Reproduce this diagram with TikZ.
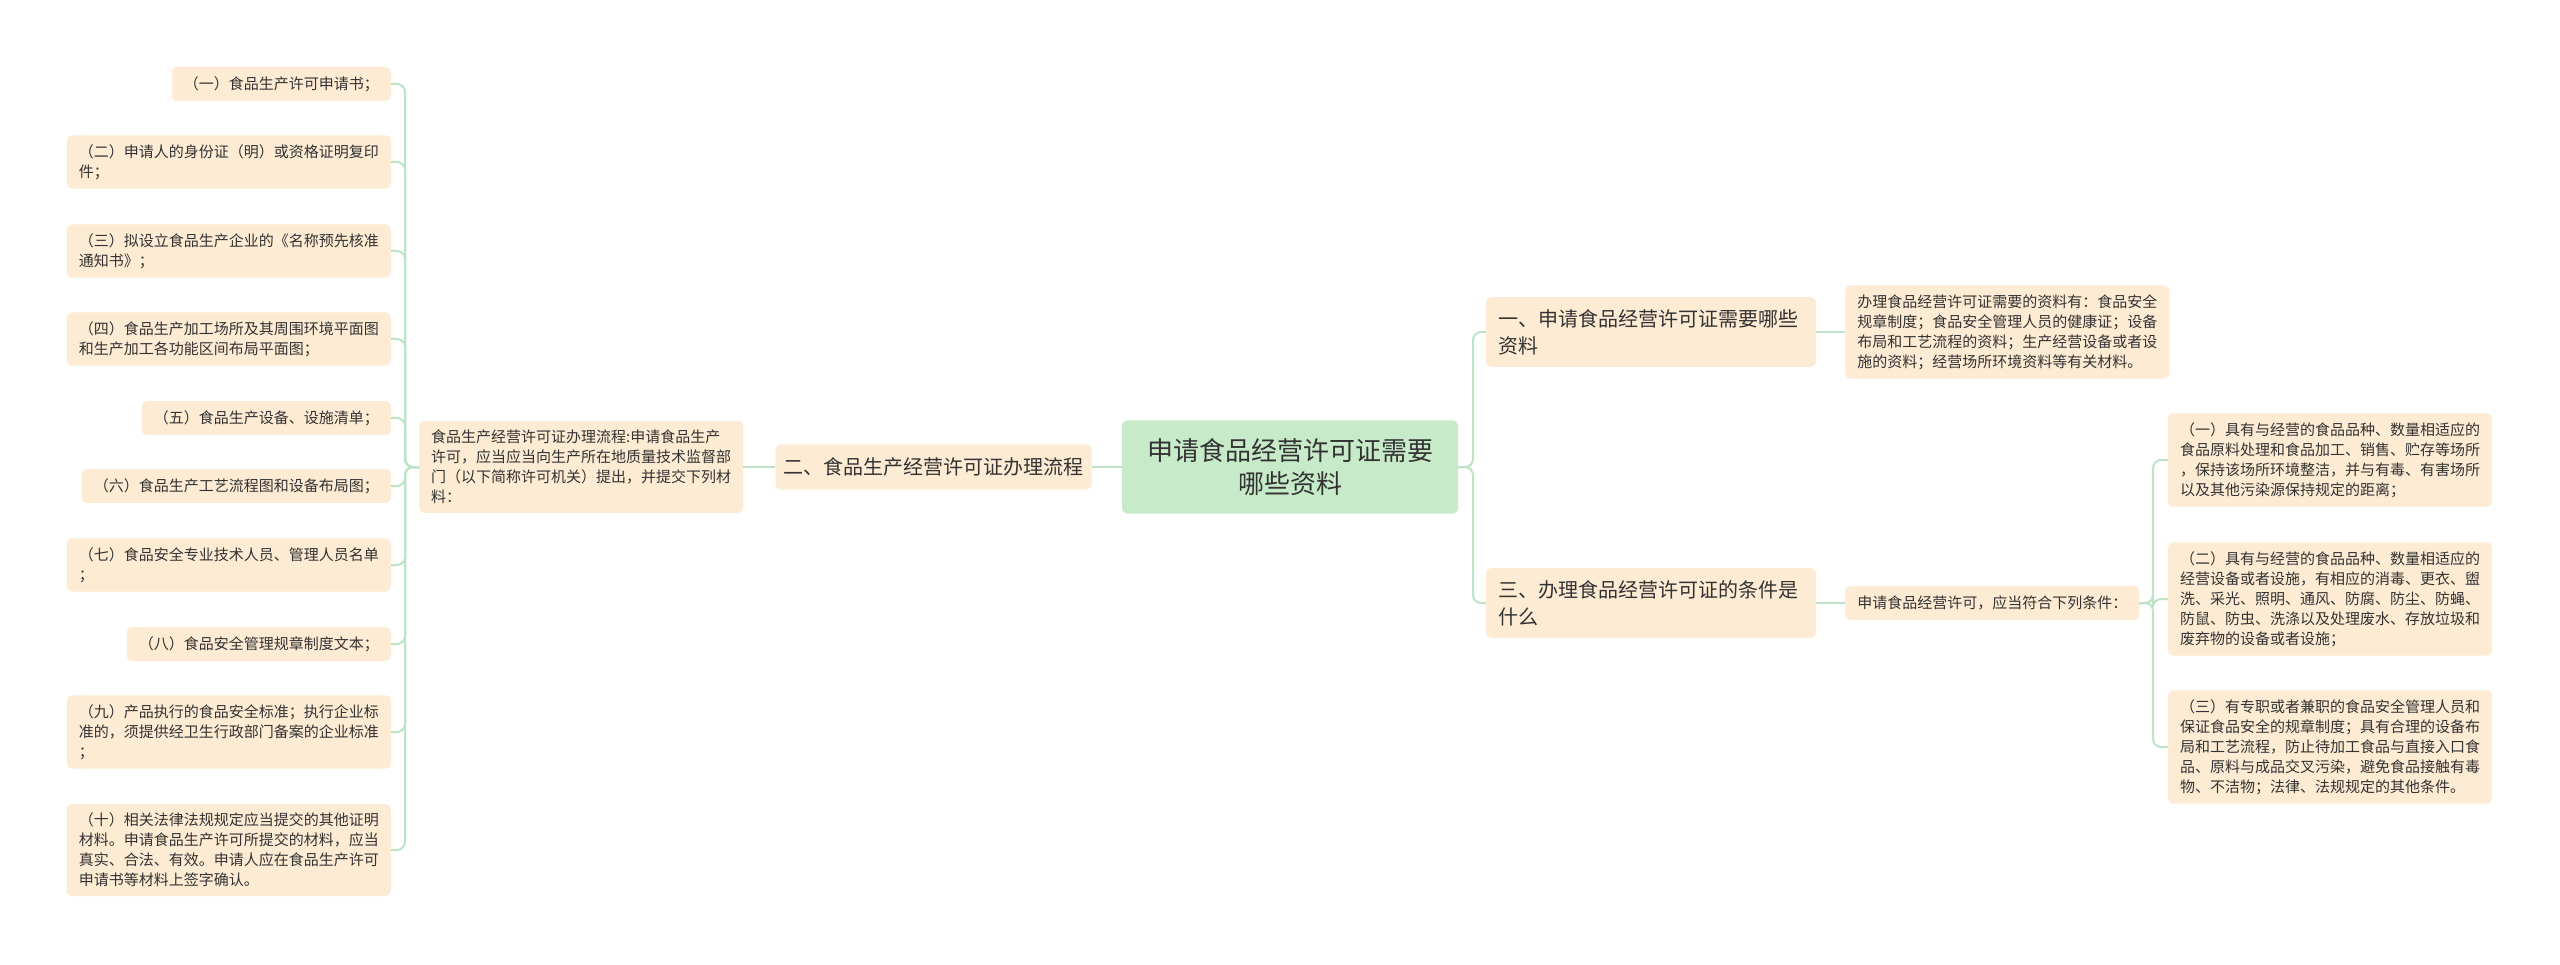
\documentclass[tikz,border=0pt]{standalone}
\usepackage{fontspec}
\setmainfont{Noto Sans CJK SC}
\usepackage{xcolor}
\usetikzlibrary{positioning}
\definecolor{peach}{RGB}{253,235,211}
\definecolor{mint}{RGB}{199,235,201}
\definecolor{linkgreen}{RGB}{190,228,199}
\definecolor{ink}{RGB}{51,51,51}
\tikzset{box/.style={rounded corners=5pt,fill=peach,text=ink,inner xsep=12pt,inner ysep=9pt,
    minimum height=34pt,font=\fontsize{15}{20}\selectfont,align=left}}
\tikzset{para/.style={box,text width=300pt}}
\tikzset{topic/.style={box,font=\fontsize{20}{27}\selectfont,inner xsep=8pt,inner ysep=12pt,minimum height=45pt}}
\tikzset{rootbox/.style={box,fill=mint,font=\fontsize{26}{33}\selectfont,align=center,
    text width=286pt,inner xsep=25pt,inner ysep=18pt}}
\tikzset{link/.style={draw=linkgreen,line width=2pt,rounded corners=8pt}}

\begin{document}
\begin{tikzpicture}[x=1pt,y=-1pt] % 像素坐标, y向下
    \useasboundingbox[fill=white] (0,0) rectangle (2560,965);
    % 中心主题
    \node[rootbox] (root) at (1290,467) {申请食品经营许可证需要\\哪些资料};
    % 左侧分支
    \node[topic,left=30pt of root] (two) {二、食品生产经营许可证办理流程};
    \node[para,left=32pt of two] (info) {食品生产经营许可证办理流程:申请食品生产\\许可，应当应当向生产所在地质量技术监督部\\门（以下简称许可机关）提出，并提交下列材\\料：};
    \node[box,anchor=east] (l1) at (391,84) {（一）食品生产许可申请书；};
    \node[para,anchor=east] (l2) at (391,162) {（二）申请人的身份证（明）或资格证明复印\\件；};
    \node[para,anchor=east] (l3) at (391,251) {（三）拟设立食品生产企业的《名称预先核准\\通知书》；};
    \node[para,anchor=east] (l4) at (391,339) {（四）食品生产加工场所及其周围环境平面图\\和生产加工各功能区间布局平面图；};
    \node[box,anchor=east] (l5) at (391,418) {（五）食品生产设备、设施清单；};
    \node[box,anchor=east] (l6) at (391,486) {（六）食品生产工艺流程图和设备布局图；};
    \node[para,anchor=east] (l7) at (391,565) {（七）食品安全专业技术人员、管理人员名单\\；};
    \node[box,anchor=east] (l8) at (391,644) {（八）食品安全管理规章制度文本；};
    \node[para,anchor=east] (l9) at (391,732) {（九）产品执行的食品安全标准；执行企业标\\准的，须提供经卫生行政部门备案的企业标准\\；};
    \node[para,anchor=east] (l10) at (391,850) {（十）相关法律法规规定应当提交的其他证明\\材料。申请食品生产许可所提交的材料，应当\\真实、合法、有效。申请人应在食品生产许可\\申请书等材料上签字确认。};
    % 右侧分支
    \node[topic,text width=306pt,inner xsep=12pt] (one) at (1651,332) {一、申请食品经营许可证需要哪些\\资料};
    \node[para,right=29pt of one] (oneinfo) {办理食品经营许可证需要的资料有：食品安全\\规章制度；食品安全管理人员的健康证；设备\\布局和工艺流程的资料；生产经营设备或者设\\施的资料；经营场所环境资料等有关材料。};
    \node[topic,text width=306pt,inner xsep=12pt] (three) at (1651,603) {三、办理食品经营许可证的条件是\\什么};
    \node[box,right=29pt of three] (threeinfo) {申请食品经营许可，应当符合下列条件：};
    \node[para,anchor=west] (r1) at (2168,460) {（一）具有与经营的食品品种、数量相适应的\\食品原料处理和食品加工、销售、贮存等场所\\，保持该场所环境整洁，并与有毒、有害场所\\以及其他污染源保持规定的距离；};
    \node[para,anchor=west] (r2) at (2168,599) {（二）具有与经营的食品品种、数量相适应的\\经营设备或者设施，有相应的消毒、更衣、盥\\洗、采光、照明、通风、防腐、防尘、防蝇、\\防鼠、防虫、洗涤以及处理废水、存放垃圾和\\废弃物的设备或者设施；};
    \node[para,anchor=west] (r3) at (2168,747) {（三）有专职或者兼职的食品安全管理人员和\\保证食品安全的规章制度；具有合理的设备布\\局和工艺流程，防止待加工食品与直接入口食\\品、原料与成品交叉污染，避免食品接触有毒\\物、不洁物；法律、法规规定的其他条件。};
    % 连线
    \coordinate (lt) at (405,467);
    \coordinate (rt) at (1473,467);
    \coordinate (rt2) at (2153,603);
    \draw[link] (two.east) -- (root.west);
    \draw[link] (info.east) -- (two.west);
    \foreach \n in {l1,l2,l3,l4,l5,l6,l7,l8,l9,l10}
        \draw[link] (info.west) -- (lt) |- (\n.east);
    \foreach \n in {one,three}
        \draw[link] (root.east) -- (rt) |- (\n.west);
    \draw[link] (one.east) -- (oneinfo.west);
    \draw[link] (three.east) -- (threeinfo.west);
    \foreach \n in {r1,r2,r3}
        \draw[link] (threeinfo.east) -- (rt2) |- (\n.west);
\end{tikzpicture}
\end{document}
